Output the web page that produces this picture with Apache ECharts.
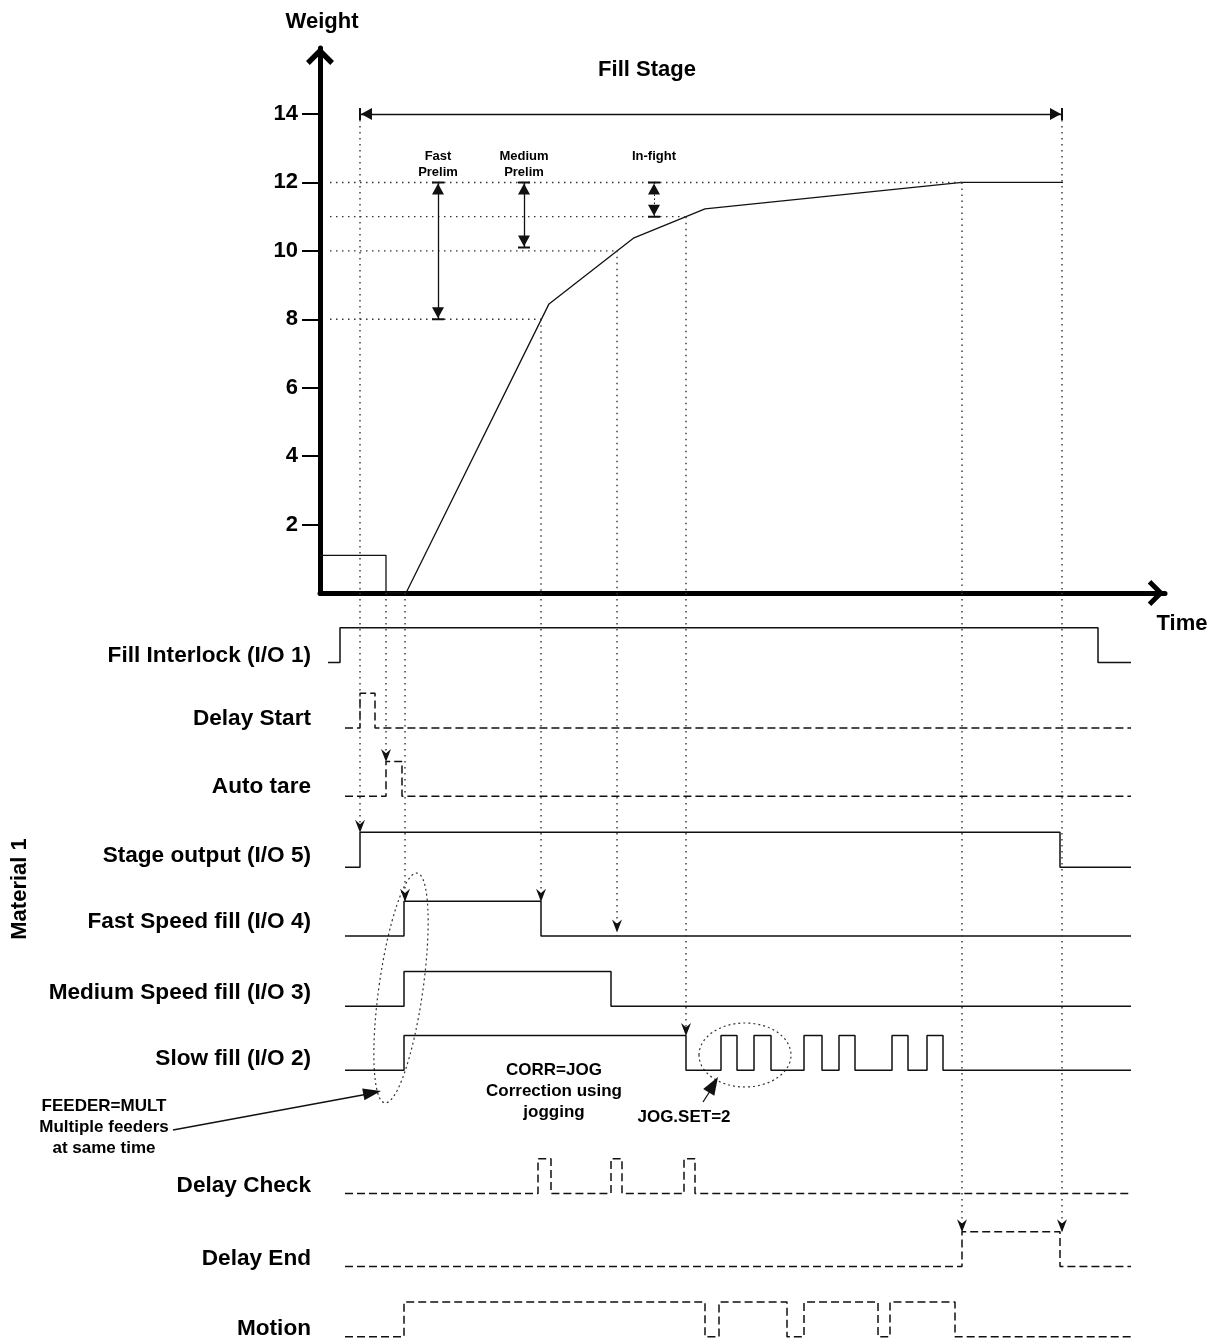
<!DOCTYPE html>
<html>
<head>
<meta charset="utf-8">
<script src="https://cdn.jsdelivr.net/npm/echarts@6/dist/echarts.min.js"></script>
<style>
html, body { margin: 0; background: #fff; }
#chart { width: 1221px; height: 1339px; }
</style>
</head>
<body>
<div id="chart"></div>
<script>
// time is in arbitrary units (0 .. 84.5 along the time axis)
var weightTime  = [0,   6.6, 6.6, 8.6, 22.9, 31.4,  38.5,  64.2, 74.3];
var weightValue = [1.1, 1.1, 0,   0,   8.45, 10.38, 11.23, 12,   12];
var weightTicks = [2, 4, 6, 8, 10, 12, 14];

// setpoint levels and where their dotted line stops
var setLevels = [8, 10, 11, 12];
var setEnds   = [22.1, 29.7, 36.6, 64.2];

// prelim / in-flight double arrows
var prelimTime = [11.8, 20.4, 33.4];
var prelimTop  = [12, 12, 12];
var prelimLow  = [8, 10.1, 11];
var fillStage  = [4.0, 74.2];

var signalNames = ['Fill Interlock (I/O 1)', 'Delay Start', 'Auto tare', 'Stage output (I/O 5)',
  'Fast Speed fill (I/O 4)', 'Medium Speed fill (I/O 3)', 'Slow fill (I/O 2)',
  'Delay Check', 'Delay End', 'Motion'];
var signalDashed = [false, true, true, false, false, false, false, true, true, true];

// transition times and the level (0/1) held from each time
var fillInterlockT = [0.8, 2.0, 77.8, 81.1];
var fillInterlockV = [0, 1, 0, 0];
var delayStartT = [2.5, 4.0, 5.5, 81.1];
var delayStartV = [0, 1, 0, 0];
var autoTareT = [2.5, 6.6, 8.2, 81.1];
var autoTareV = [0, 1, 0, 0];
var stageT = [2.5, 4.0, 74.0, 81.1];
var stageV = [0, 1, 0, 0];
var fastT = [2.5, 8.4, 22.1, 81.1];
var fastV = [0, 1, 0, 0];
var mediumT = [2.5, 8.4, 29.1, 81.1];
var mediumV = [0, 1, 0, 0];
var slowT = [2.5, 8.4, 36.6, 40.1, 41.7, 43.4, 45.1, 48.4, 50.2, 51.9, 53.5, 57.2, 58.8, 60.7, 62.3, 81.1];
var slowV = [0, 1, 0, 1, 0, 1, 0, 1, 0, 1, 0, 1, 0, 1, 0, 0];
var delayCheckT = [2.5, 21.8, 23.1, 29.1, 30.2, 36.4, 37.5, 81.1];
var delayCheckV = [0, 1, 0, 1, 0, 1, 0, 0];
var delayEndT = [2.5, 64.2, 74.0, 81.1];
var delayEndV = [0, 1, 0, 0];
var motionT = [2.5, 8.4, 38.5, 39.9, 46.7, 48.4, 55.8, 57.0, 63.5, 81.1];
var motionV = [0, 1, 0, 1, 0, 1, 0, 1, 0, 0];

var signalT = [fillInterlockT, delayStartT, autoTareT, stageT, fastT, mediumT, slowT, delayCheckT, delayEndT, motionT];
var signalV = [fillInterlockV, delayStartV, autoTareV, stageV, fastV, mediumV, slowV, delayCheckV, delayEndV, motionV];

// dotted guides: time, weight they start from, signal row and level they point at
var guideTime   = [4.0, 6.6, 8.5, 22.1, 29.7, 36.6, 64.2, 74.2];
var guideWeight = [14, 0, 0, 8, 10, 11, 12, 14];
var guideRow    = [3, 2, 4, 4, 4, 6, 8, 8];
var guideLevel  = [1, 1, 1, 1, 0, 1, 1, 1];

// layout of the signal rows (low level, in row units)
var rowBase = [0, 0.94, 1.92, 2.94, 3.93, 4.94, 5.86, 7.63, 8.68, 9.69];
var rowHigh = 0.5;
var labelShift = [0.1, 0.13, 0.13, 0.17, 0.2, 0.2, 0.16, 0.115, 0.115, 0.115];

var FONT = '"Liberation Sans", Arial, sans-serif';
var INK = '#111';
var chevron = 'path://M0,13 L13,0 L26,13 L22.5,16.5 L13,7 L3.5,16.5 Z';
var barArrow = 'path://M6,0 L6,0.01 M0,11 L12,11 L12,13 L0,13 Z M6,13 L12,24 L0,24 Z';
var downArrow = 'path://M0,0 L5,4 L10,0 L5,12 Z';
var dotted = [1.5, 4.5];

var series = [];

series.push({
  type: 'line', xAxisIndex: 0, yAxisIndex: 0, symbol: 'none', silent: true,
  data: weightTime.map(function (t, i) { return [t, weightValue[i]]; }),
  lineStyle: { color: INK, width: 1.3 },
  markLine: {
    silent: true, animation: false,
    symbol: [barArrow, barArrow], symbolSize: [12, 24],
    label: { show: false },
    lineStyle: { color: INK, width: 1.3, type: 'solid' },
    data: [
      [{ coord: [fillStage[0], 14] }, { coord: [fillStage[1], 14] }],
      [{ coord: [prelimTime[0], prelimTop[0]] }, { coord: [prelimTime[0], prelimLow[0]] }],
      [{ coord: [prelimTime[1], prelimTop[1]] }, { coord: [prelimTime[1], prelimLow[1]] }],
      [{ coord: [prelimTime[2], prelimTop[2]], lineStyle: { type: [1.5, 2.5], color: INK, width: 1 } },
       { coord: [prelimTime[2], prelimLow[2]] }]
    ]
  }
});

setLevels.forEach(function (lv, i) {
  series.push({
    type: 'line', xAxisIndex: 0, yAxisIndex: 0, symbol: 'none', silent: true,
    data: [[1, lv], [setEnds[i], lv]],
    lineStyle: { color: '#333', width: 1.4, type: dotted }
  });
});

guideTime.forEach(function (t, i) {
  if (guideWeight[i] > 0) {
    series.push({
      type: 'line', xAxisIndex: 0, yAxisIndex: 0, symbol: 'none', silent: true,
      data: [[t, guideWeight[i]], [t, 0]],
      lineStyle: { color: '#333', width: 1.4, type: dotted }
    });
  }
  var yEnd = rowBase[guideRow[i]] - rowHigh * guideLevel[i];
  series.push({
    type: 'line', xAxisIndex: 1, yAxisIndex: 1, symbol: 'none', silent: true, z: 5,
    data: [
      { value: [t, -1], symbol: 'none' },
      { value: [t, yEnd], symbol: downArrow, symbolSize: [10, 13], symbolOffset: [0, guideLevel[i] ? -6 : -10] }
    ],
    itemStyle: { color: INK },
    lineStyle: { color: '#333', width: 1.4, type: dotted }
  });
});

signalNames.forEach(function (name, i) {
  series.push({
    name: name, type: 'line', xAxisIndex: 1, yAxisIndex: 1, symbol: 'none', silent: true,
    step: 'end',
    data: signalT[i].map(function (t, k) { return [t, rowBase[i] - rowHigh * signalV[i][k]]; }),
    lineStyle: { color: INK, width: 1.5, type: signalDashed[i] ? [8, 4] : 'solid' }
  });
});

function arrowHead(x0, y0, x1, y1, len, wid) {
  var a = Math.atan2(y1 - y0, x1 - x0);
  var bx = x1 - len * Math.cos(a), by = y1 - len * Math.sin(a);
  var nx = -Math.sin(a) * wid / 2, ny = Math.cos(a) * wid / 2;
  return [[x1, y1], [bx + nx, by + ny], [bx - nx, by - ny]];
}

function txt(x, y, s, size, extra) {
  var o = { type: 'text', x: x, y: y, silent: true,
    style: { text: s, fontFamily: FONT, fontWeight: 'bold', fontSize: size, fill: '#000',
      align: 'center', verticalAlign: 'middle' } };
  if (extra) { for (var k in extra) o.style[k] = extra[k]; }
  return o;
}

var graphics = [
  txt(322, 22, 'Weight', 22),
  txt(647, 70, 'Fill Stage', 22),
  txt(1182, 624, 'Time', 22),
  txt(438, 164, 'Fast\nPrelim', 13, { lineHeight: 16 }),
  txt(524, 164, 'Medium\nPrelim', 13, { lineHeight: 16 }),
  txt(654, 156, 'In-fight', 13),
  { type: 'text', x: 20, y: 889, rotation: Math.PI / 2, silent: true,
    style: { text: 'Material 1', fontFamily: FONT, fontWeight: 'bold', fontSize: 22, fill: '#000',
      align: 'center', verticalAlign: 'middle' } },
  txt(104, 1127, 'FEEDER=MULT\nMultiple feeders\nat same time', 17, { lineHeight: 21 }),
  txt(554, 1091, 'CORR=JOG\nCorrection using\njogging', 17, { lineHeight: 21 }),
  txt(684, 1117, 'JOG.SET=2', 17),
  { type: 'ellipse', x: 401, y: 988, rotation: -0.14, silent: true,
    shape: { cx: 0, cy: 0, rx: 22, ry: 116 },
    style: { fill: 'none', stroke: '#333', lineWidth: 1.2, lineDash: [2, 3] } },
  { type: 'ellipse', x: 745, y: 1055, silent: true,
    shape: { cx: 0, cy: 0, rx: 46, ry: 32 },
    style: { fill: 'none', stroke: '#333', lineWidth: 1.2, lineDash: [2, 3] } },
  { type: 'line', silent: true, shape: { x1: 173, y1: 1130, x2: 368, y2: 1094 },
    style: { stroke: INK, lineWidth: 1.3 } },
  { type: 'polygon', silent: true, shape: { points: arrowHead(173, 1130, 381, 1091, 18, 12) },
    style: { fill: INK } },
  { type: 'line', silent: true, shape: { x1: 703, y1: 1102, x2: 712, y2: 1088 },
    style: { stroke: INK, lineWidth: 1.3 } },
  { type: 'polygon', silent: true, shape: { points: arrowHead(703, 1102, 718, 1077, 18, 13) },
    style: { fill: INK } }
];

var chart = echarts.init(document.getElementById('chart'), null, { renderer: 'canvas' });
chart.setOption({
  animation: false,
  backgroundColor: '#fff',
  grid: [
    { left: 320, top: 48, width: 845, height: 545, outerBoundsMode: 'none' },
    { left: 320, top: 593, width: 845, height: 746, outerBoundsMode: 'none' }
  ],
  xAxis: [
    { gridIndex: 0, type: 'value', min: 0, max: 84.5,
      axisLine: { show: true, onZero: false, lineStyle: { color: '#000', width: 5 },
        symbol: ['none', chevron], symbolSize: [26, 18], symbolOffset: [0, -9] },
      axisTick: { show: false }, axisLabel: { show: false }, splitLine: { show: false } },
    { gridIndex: 1, type: 'value', min: 0, max: 84.5, show: false }
  ],
  yAxis: [
    { gridIndex: 0, type: 'value', min: 0, max: 545 / 34.214,
      axisLine: { show: true, onZero: false, lineStyle: { color: '#000', width: 5 },
        symbol: ['none', chevron], symbolSize: [28, 18], symbolOffset: [0, -8] },
      axisTick: { show: true, length: 18, lineStyle: { color: '#000', width: 2 }, customValues: weightTicks },
      axisLabel: { customValues: weightTicks, margin: 22, color: '#000', fontFamily: FONT,
        fontWeight: 'bold', fontSize: 22 },
      splitLine: { show: false } },
    { gridIndex: 1, type: 'value', min: -1, max: 746 / 69.581 - 1, inverse: true,
      axisLine: { show: false }, axisTick: { show: false }, splitLine: { show: false },
      axisLabel: {
        customValues: rowBase.map(function (b, i) { return b - labelShift[i]; }),
        margin: 9, color: '#000', fontFamily: FONT, fontWeight: 'bold', fontSize: 22.6,
        formatter: function (v) {
          for (var i = 0; i < rowBase.length; i++) {
            if (Math.abs(rowBase[i] - labelShift[i] - v) < 0.005) return signalNames[i];
          }
          return '';
        }
      } }
  ],
  series: series,
  graphic: graphics
});
</script>
</body>
</html>
